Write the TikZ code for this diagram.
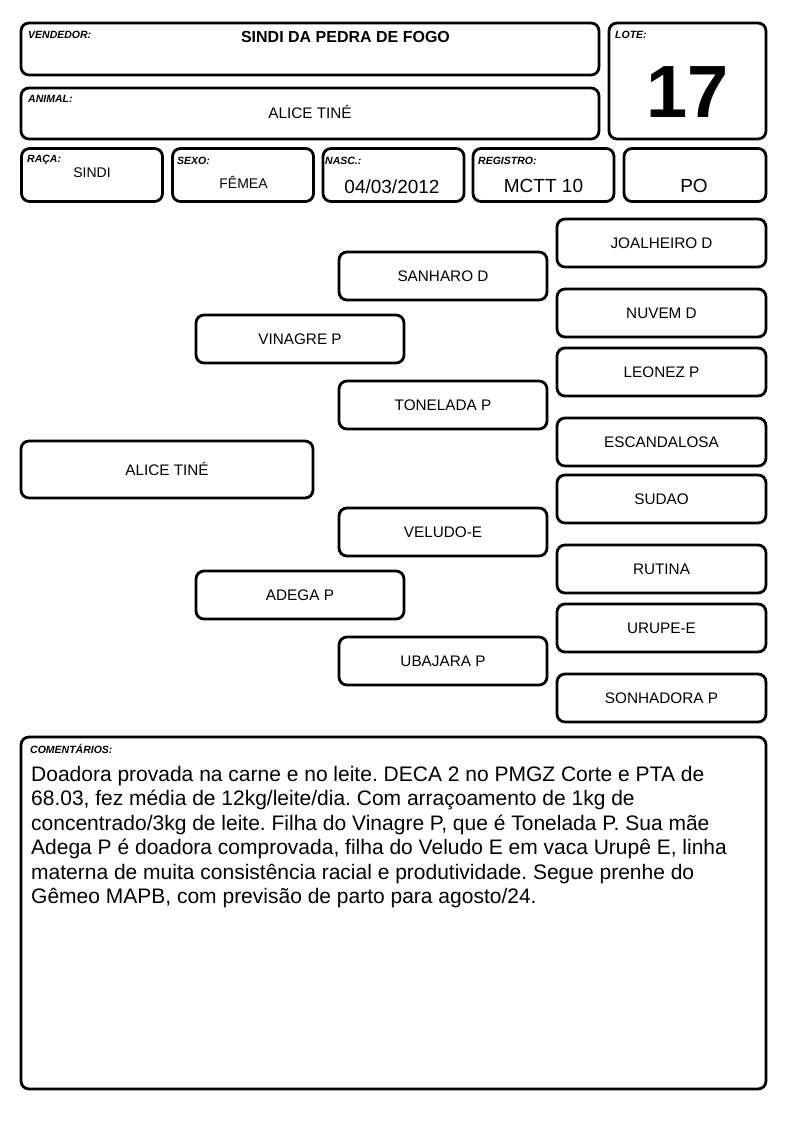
\documentclass[tikz,border=0pt]{standalone}
\usepackage{fontspec}
\setmainfont{Liberation Sans}
\usepackage{tikz}
\frenchspacing

\begin{document}
\begin{tikzpicture}[x=1pt,y=-1pt]
  \tikzstyle{box}=[draw,rounded corners=8pt,inner sep=0,line width=2.8pt]
  \tikzstyle{head}=[font=\fontsize{10.5}{12}\selectfont\bfseries\itshape,anchor=base west,inner sep=0]
  \tikzstyle{val}=[anchor=base,inner sep=0,font=\fontsize{15.3}{18}\selectfont]
  \tikzstyle{small box}=[box,minimum width=141pt,minimum height=53pt]
  \tikzstyle{ped}=[box,minimum width=208pt,minimum height=48pt,font=\fontsize{15.3}{18}\selectfont,text height=11pt,text depth=0pt]
  \useasboundingbox (0,0) rectangle (794,1123);
  % cabecalho
  \node(vend)[box,minimum width=578pt,minimum height=52pt] at (310,49){};
  \node(anim)[box,minimum width=578pt,minimum height=51pt] at (310,113.5){};
  \node(lote)[box,minimum width=157pt,minimum height=116pt] at (687.5,81){};
  \node(raca)[small box] at (92,175){};
  \node(sexo)[small box] at (243,175){};
  \node(nasc)[small box] at (393.5,175){};
  \node(reg)[small box] at (543.5,175){};
  \node(po)[small box,minimum width=142pt] at (695,175){};
  \node(vendl)[head] at (28,39){VENDEDOR:};
  \node(animl)[head] at (28,103){ANIMAL:};
  \node(lotel)[head] at (615,39){LOTE:};
  \node(racal)[head] at (27,162.5){RAÇA:};
  \node(sexol)[head] at (177,165){SEXO:};
  \node(nascl)[head] at (325,165){NASC.:};
  \node(regl)[head] at (478,164.5){REGISTRO:};
  \node(vendv)[val,font=\fontsize{16}{19}\selectfont\bfseries] at (345.5,43){SINDI DA PEDRA DE FOGO};
  \node(animv)[val] at (310,119){ALICE TINÉ};
  \node(lotev)[val,font=\fontsize{74}{80}\selectfont\bfseries] at (688,118){17};
  \node(racav)[val,font=\fontsize{14}{17}\selectfont] at (92,178){SINDI};
  \node(sexov)[val,font=\fontsize{14}{17}\selectfont] at (243.5,189){FÊMEA};
  \node(nascv)[val,font=\fontsize{19}{22}\selectfont] at (392,193.5){04/03/2012};
  \node(regv)[val,font=\fontsize{19}{22}\selectfont] at (543.5,193){MCTT 10};
  \node(pov)[val,font=\fontsize{19}{22}\selectfont] at (694,193){PO};
  % genealogia
  \node(animal)[ped,minimum width=292pt,minimum height=57pt] at (167,469.5){ALICE TINÉ};
  \node(pai)[ped] at (300,339){VINAGRE P};
  \node(mae)[ped] at (300,595){ADEGA P};
  \node(avopp)[ped] at (443,276){SANHARO D};
  \node(avopm)[ped] at (443,405){TONELADA P};
  \node(avomp)[ped] at (443,532){VELUDO-E};
  \node(avomm)[ped] at (443,661){UBAJARA P};
  \node(bis1)[ped,minimum width=209pt] at (661.5,243){JOALHEIRO D};
  \node(bis2)[ped,minimum width=209pt] at (661.5,313){NUVEM D};
  \node(bis3)[ped,minimum width=209pt] at (661.5,372){LEONEZ P};
  \node(bis4)[ped,minimum width=209pt] at (661.5,442){ESCANDALOSA};
  \node(bis5)[ped,minimum width=209pt] at (661.5,499){SUDAO};
  \node(bis6)[ped,minimum width=209pt] at (661.5,569){RUTINA};
  \node(bis7)[ped,minimum width=209pt] at (661.5,628){URUPE-E};
  \node(bis8)[ped,minimum width=209pt] at (661.5,698){SONHADORA P};
  % comentarios
  \node(coment)[box,minimum width=745pt,minimum height=352pt] at (393.5,913){};
  \node(comentl)[head] at (30,753){COMENTÁRIOS:};
  \node(comentv)[anchor=north west,inner sep=0,align=left,font=\fontsize{21}{24.4}\selectfont] at (31,766){%
    Doadora provada na carne e no leite. DECA 2 no PMGZ Corte e PTA de\\
    68.03, fez média de 12kg/leite/dia. Com arraçoamento de 1kg de\\
    concentrado/3kg de leite. Filha do Vinagre P, que é Tonelada P. Sua mãe\\
    Adega P é doadora comprovada, filha do Veludo E em vaca Urupê E, linha\\
    materna de muita consistência racial e produtividade. Segue prenhe do\\
    Gêmeo MAPB, com previsão de parto para agosto/24.};
\end{tikzpicture}
\end{document}
